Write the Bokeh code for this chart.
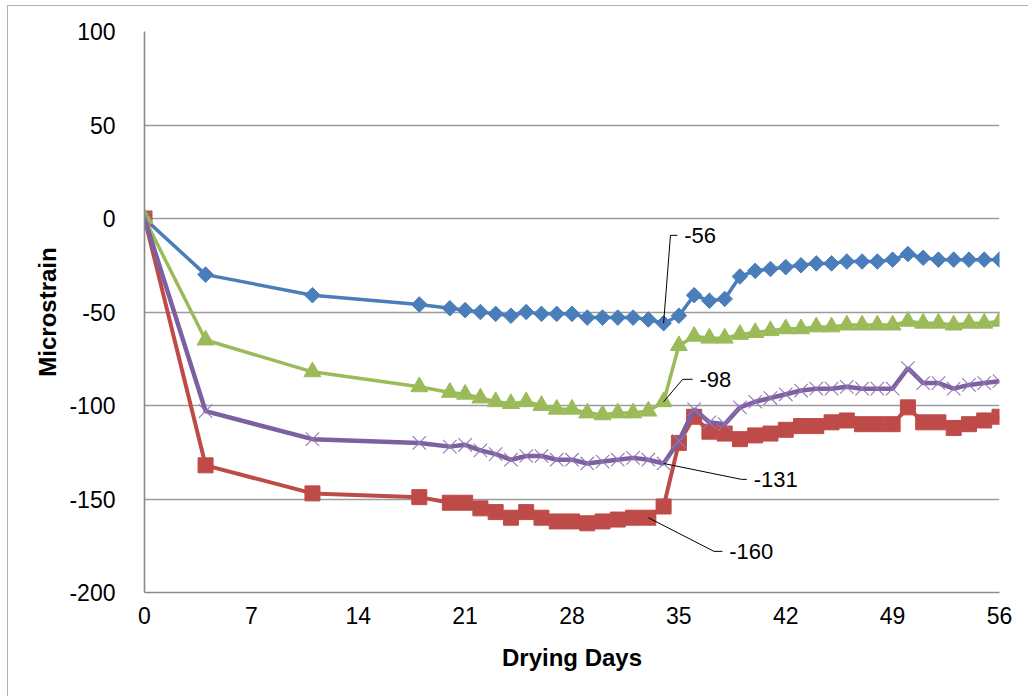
import math

from bokeh.plotting import figure
from bokeh.models import FixedTicker, Range1d, Label
from bokeh.embed import file_html
from bokeh.resources import INLINE

# Drying days at which readings were taken
days = [0, 4, 11, 18, 20, 21, 22, 23, 24, 25, 26, 27, 28, 29, 30, 31, 32, 33, 34,
        35, 36, 37, 38, 39, 40, 41, 42, 43, 44, 45, 46, 47, 48, 49, 50, 51, 52, 53,
        54, 55, 56]

# Microstrain readings for each specimen
blue_strain = [0, -30, -41, -46, -48, -49, -50, -51, -52, -50, -51, -51, -51, -53,
               -53, -53, -53, -54, -56, -52, -41, -44, -43, -31, -28, -27, -26, -25,
               -24, -24, -23, -23, -23, -22, -19, -21, -22, -22, -22, -22, -22]
red_strain = [0, -132, -147, -149, -152, -152, -155, -157, -160, -157, -160, -162,
              -162, -163, -162, -161, -160, -160, -154, -120, -106, -114, -115, -118,
              -116, -115, -113, -111, -111, -109, -108, -110, -110, -110, -101, -109,
              -109, -112, -110, -108, -106]
green_strain = [0, -65, -82, -90, -93, -94, -96, -98, -99, -98, -100, -102, -102,
                -104, -105, -104, -104, -103, -98, -68, -63, -64, -64, -62, -61, -60,
                -59, -59, -58, -58, -57, -57, -57, -57, -55, -56, -56, -57, -56, -56,
                -55]
purple_strain = [0, -103, -118, -120, -122, -121, -124, -126, -129, -127, -127, -129,
                 -129, -131, -130, -129, -128, -129, -131, -119, -102, -109, -110,
                 -101, -98, -96, -94, -92, -91, -91, -90, -91, -91, -91, -80, -88,
                 -88, -91, -89, -88, -87]

x_ticks = [0, 7, 14, 21, 28, 35, 42, 49, 56]
y_ticks = [-200, -150, -100, -50, 0, 50, 100]

BLUE = "#4a7ebb"
RED = "#be4b48"
GREEN = "#9bbb59"
PURPLE = "#7d60a0"

p = figure(width=1021, height=691,
           x_range=Range1d(0, 56), y_range=Range1d(-200, 100),
           output_backend="svg", toolbar_location=None,
           min_border_left=136, min_border_right=30,
           min_border_top=25, min_border_bottom=105)
p.margin = (5, 0, 0, 7)
p.styles = {"border-left": "1px solid #b0b0b0", "border-top": "1px solid #b0b0b0"}
p.outline_line_color = None
p.background_fill_color = "white"
p.border_fill_color = "white"

p.xgrid.visible = False
p.ygrid.grid_line_color = "#9c9c9c"
p.ygrid.grid_line_width = 1.3

for ax in (p.xaxis[0], p.yaxis[0]):
    ax.axis_line_color = "#8a8a8a"
    ax.axis_line_width = 1.6
    ax.major_tick_line_color = None
    ax.minor_tick_line_color = None
    ax.major_label_text_font = "Liberation Sans"
    ax.major_label_text_font_size = "23px"
    ax.major_label_text_color = "black"
    ax.axis_label_text_font = "Liberation Sans"
    ax.axis_label_text_font_size = "24px"
    ax.axis_label_text_font_style = "bold"
    ax.axis_label_text_color = "black"

p.xaxis.ticker = FixedTicker(ticks=x_ticks)
p.yaxis.ticker = FixedTicker(ticks=y_ticks)
p.yaxis.major_label_overrides = {v: str(v) for v in y_ticks}
p.xaxis.major_label_overrides = {v: str(v) for v in x_ticks}
p.xaxis.axis_label = "Drying Days"
p.yaxis.axis_label = "Microstrain"
p.yaxis.major_label_standoff = 23
p.xaxis.major_label_standoff = 8
p.xaxis.axis_label_standoff = 17
p.yaxis.axis_label_standoff = 5

# Series, drawn in legend order so later ones sit on top
p.line(days, blue_strain, line_color=BLUE, line_width=3.5)
p.scatter(days, blue_strain, marker="square", angle=math.pi / 4, size=11,
          fill_color=BLUE, line_color=BLUE)

p.line(days, red_strain, line_color=RED, line_width=4)
p.scatter(days, red_strain, marker="square", size=15, fill_color=RED, line_color=RED)

p.line(days, green_strain, line_color=GREEN, line_width=3.5)
p.scatter(days, green_strain, marker="triangle", size=17, fill_color=GREEN, line_color=GREEN)

p.line(days, purple_strain, line_color=PURPLE, line_width=4.5)
p.scatter(days, purple_strain, marker="x", size=19, line_color="#9078b8", line_width=1.1)

# Callout labels at the end of the drying phase: (series, day index, elbow dx/dy, arm length)
callouts = [
    (blue_strain, 18, 0.45, 47.0, 0.45),
    (green_strain, 18, 1.25, 12.0, 0.65),
    (purple_strain, 18, 5.1, -8.5, 0.35),
    (red_strain, 17, 4.3, -18.0, 0.55),
]
for series, i, dx, dy, arm in callouts:
    x0, y0 = days[i], series[i]
    xe, ye = x0 + dx, y0 + dy
    p.line([x0, xe, xe + arm], [y0, ye, ye], line_color="black", line_width=1)
    p.add_layout(Label(x=xe + arm + 0.45, y=ye, text=str(series[i]),
                       text_baseline="middle", text_align="left",
                       text_font="Liberation Sans Narrow, Liberation Sans",
                       text_font_size="22px", text_color="black"))

open("out.html", "w").write(file_html(p, INLINE))
